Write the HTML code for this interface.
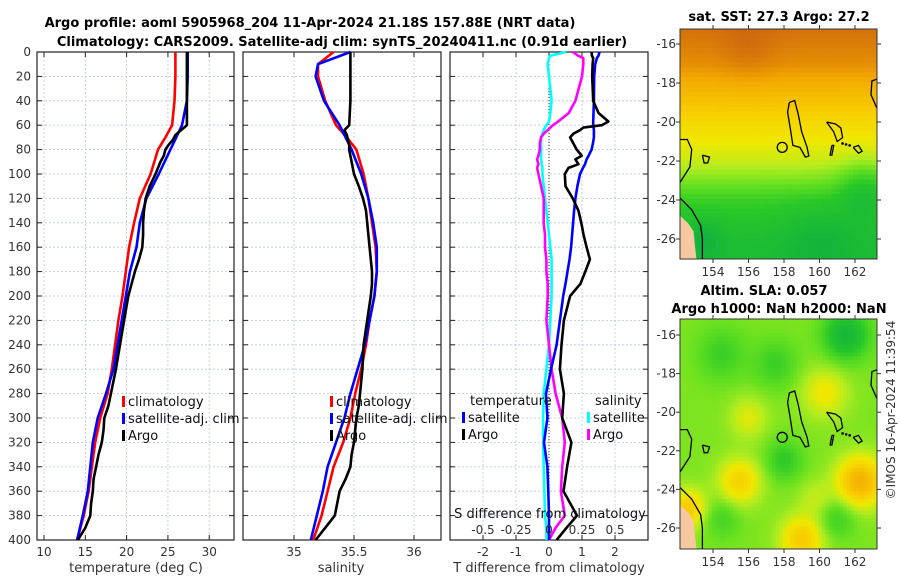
<!DOCTYPE html>
<html><head><meta charset="utf-8">
<style>
html,body{margin:0;padding:0;background:#fff;}
svg{display:block;font-family:"DejaVu Sans","Liberation Sans",sans-serif;}
.tk{font-size:12px;fill:#333;}
.tt{font-size:13px;font-weight:bold;fill:#000;}
.lg{font-size:13px;fill:#111;}
</style></head>
<body>
<svg id="fig" width="900" height="580" viewBox="0 0 900 580">
<defs>
<clipPath id="clipm1"><rect x="680" y="29" width="197" height="230"/></clipPath>
<clipPath id="clipm2"><rect x="680" y="319" width="197" height="230"/></clipPath>
</defs>
<g id="bg"></g>
<text class="tt" x="310" y="27" text-anchor="middle">Argo profile: aoml 5905968_204 11-Apr-2024 21.18S 157.88E (NRT data)</text>
<text class="tt" x="342" y="46" text-anchor="middle">Climatology: CARS2009. Satellite-adj clim: synTS_20240411.nc (0.91d earlier)</text>
<text class="tt" x="779" y="21" text-anchor="middle">sat. SST: 27.3 Argo: 27.2</text>
<text class="tt" x="764" y="295" text-anchor="middle">Altim. SLA: 0.057</text>
<text class="tt" x="779" y="313" text-anchor="middle">Argo h1000: NaN h2000: NaN</text>
<text class="tk" transform="translate(895,410) rotate(-90)" text-anchor="middle" style="font-size:12px">©IMOS 16-Apr-2024 11:39:54</text>
</svg>
<script>
// ---- data ----
const depthT=[0,10,20,40,60,70,80,100,120,140,160,180,200,220,240,260,280,300,320,340,360,380,400];
const tempClim=[25.9,25.9,25.9,25.8,25.5,24.7,23.8,22.9,21.6,20.9,20.3,19.9,19.5,19.0,18.6,18.2,17.7,16.8,16.2,15.8,15.4,14.8,14.0];
const tempSat=[27.4,27.4,27.4,27.3,26.7,26.0,25.3,23.9,22.4,21.6,21.2,20.4,19.9,19.4,18.9,18.4,17.5,16.5,15.9,15.6,15.3,14.7,14.0];
const depthA=[0,10,20,40,60,64,68,72,76,80,85,90,95,100,110,120,130,140,150,160,170,180,190,200,220,240,260,280,290,300,310,320,330,340,350,360,370,380,390,400];
const tempArgo=[27.3,27.3,27.3,27.3,27.3,26.6,25.9,25.6,25.1,24.7,24.5,24.1,23.8,23.5,22.8,22.3,22.1,22.0,22.0,21.9,21.5,21.0,20.6,20.2,19.7,19.2,18.7,18.1,17.8,17.3,17.2,17.0,16.6,16.3,16.0,15.9,15.7,15.6,15.0,14.1];
const salClim=[35.33,35.2,35.2,35.26,35.35,35.44,35.52,35.58,35.62,35.65,35.68,35.69,35.67,35.63,35.6,35.56,35.51,35.47,35.41,35.33,35.28,35.23,35.16];
const salSat=[35.47,35.2,35.18,35.25,35.38,35.43,35.48,35.56,35.62,35.66,35.69,35.69,35.67,35.63,35.59,35.53,35.47,35.42,35.35,35.28,35.24,35.19,35.14];
const salArgo=[35.47,35.47,35.47,35.47,35.46,35.42,35.44,35.45,35.46,35.46,35.47,35.48,35.49,35.5,35.54,35.575,35.6,35.61,35.62,35.63,35.64,35.65,35.65,35.64,35.61,35.58,35.57,35.55,35.54,35.52,35.51,35.5,35.48,35.47,35.43,35.38,35.36,35.34,35.26,35.18];
const depthD=[0,3,5,10,20,40,50,57,60,62,64,67,70,75,80,85,88,92,95,100,110,120,130,140,150,160,170,180,190,200,220,240,260,280,300,320,340,360,380,390,400];
const dTSat=[1.53,1.5,1.45,1.4,1.37,1.36,1.35,1.34,1.34,1.35,1.36,1.36,1.36,1.33,1.29,1.2,1.14,1.09,1.03,0.94,0.86,0.8,0.76,0.73,0.7,0.67,0.62,0.56,0.5,0.43,0.33,0.23,0.06,-0.09,-0.05,-0.15,-0.05,-0.02,0,0,0];
const dTArgo=[1.29,1.3,1.34,1.32,1.31,1.34,1.5,1.8,1.6,1.04,0.94,0.74,0.64,0.74,0.84,0.99,0.8,0.89,0.59,0.48,0.5,0.72,0.89,0.98,1.05,1.14,1.24,1.1,0.95,0.64,0.45,0.38,0.33,0.45,0.4,0.68,0.55,0.44,0.85,0.53,0.23];
const dSSat=[0.13,0.01,0.0,-0.01,0.0,0.02,0.01,0.0,-0.02,-0.03,-0.04,-0.05,-0.06,-0.06,-0.06,-0.06,-0.06,-0.055,-0.05,-0.05,-0.04,-0.03,-0.02,-0.01,0.0,0.01,0.02,0.02,0.02,0.02,0.01,0,-0.02,-0.04,-0.045,-0.045,-0.04,-0.035,-0.03,-0.02,-0.02];
const dSArgo=[0.18,0.22,0.26,0.26,0.25,0.2,0.15,0.07,0.03,0.01,-0.01,-0.04,-0.06,-0.07,-0.07,-0.08,-0.09,-0.08,-0.09,-0.08,-0.06,-0.04,-0.04,-0.04,-0.03,-0.03,-0.02,-0.02,-0.01,-0.01,-0.02,0,0.02,0.05,0.1,0.12,0.1,0.09,0.12,0.05,0.0];
const depthTicks=[0,20,40,60,80,100,120,140,160,180,200,220,240,260,280,300,320,340,360,380,400];
const tempTicks=[10,15,20,25,30];
const salTicks=[35,35.5,36];
const salTickLabels=["35","35.5","36"];
const dTTicks=[-2,-1,0,1,2];
const dSTicks=[-0.5,-0.25,0,0.25,0.5];
const dSTickLabels=["-0.5","-0.25","0","0.25","0.5"];
const lonTicks=[154,156,158,160,162];
const latTicks=[-16,-18,-20,-22,-24,-26];

const NS="http://www.w3.org/2000/svg";
const svg=document.getElementById('fig');
function mk(tag,attrs,parent){const e=document.createElementNS(NS,tag);for(const k in attrs)e.setAttribute(k,attrs[k]);(parent||svg).appendChild(e);return e;}

const TOP=52,BOT=540;
const yD=d=>TOP+(d/400)*(BOT-TOP);
const panels=[
 {x0:37,x1:234,lo:9.15,hi:33.0,name:'temperature'},
 {x0:243,x1:441,lo:34.575,hi:36.225,name:'salinity'},
 {x0:450,x1:648,lo:-3,hi:3,name:'difference'}
];
function sx(p,v){return p.x0+(v-p.lo)/(p.hi-p.lo)*(p.x1-p.x0);}

function frameAndGrid(p,xt,xlabels,showY){
  const g=mk('g',{});
  
  
  depthTicks.forEach(d=>{const y=yD(d);
    mk('line',{x1:p.x0,x2:p.x1,y1:y,y2:y,stroke:'#b8c4e0','stroke-width':0.8,'stroke-dasharray':'2,2'},g);
    mk('line',{x1:p.x0,x2:p.x0+5,y1:y,y2:y,stroke:'#222'},g);
    mk('line',{x1:p.x1,x2:p.x1-5,y1:y,y2:y,stroke:'#222'},g);
    if(showY){const t=mk('text',{x:p.x0-6,y:y+4,'text-anchor':'end',class:'tk'},g);t.textContent=d;}
  });
  xt.forEach((v,i)=>{const x=sx(p,v);
    mk('line',{x1:x,x2:x,y1:TOP,y2:BOT,stroke:'#b8c4e0','stroke-width':0.8,'stroke-dasharray':'2,2'},g);
    mk('line',{x1:x,x2:x,y1:BOT,y2:BOT-5,stroke:'#222'},g);
    mk('line',{x1:x,x2:x,y1:TOP,y2:TOP+5,stroke:'#222'},g);
    if(xlabels){const t=mk('text',{x:x,y:BOT+16,'text-anchor':'middle',class:'tk'},g);t.textContent=xlabels[i];}
  });
  mk('rect',{x:p.x0,y:TOP,width:p.x1-p.x0,height:BOT-TOP,fill:'none',stroke:'#222','stroke-width':1.2},g);
  return g;
}
function line(p,vals,deps,color,name,scale){
  const pts=vals.map((v,i)=>sx(p,v*(scale||1)).toFixed(1)+','+yD(deps[i]).toFixed(1)).join(' ');
  const e=mk('polyline',{points:pts,fill:'none',stroke:color,'stroke-width':2.6,'stroke-linejoin':'round'});
  
  
  return e;
}
function legend(x,y,items){
  items.forEach((it,i)=>{
    mk('rect',{x:x,y:y+i*17-10,width:3,height:11,fill:it[1]});
    const t=mk('text',{x:x+6,y:y+i*17,class:'lg'});t.textContent=it[0];
    
    
  });
}
// Panel 1
const p1=panels[0];
frameAndGrid(p1,tempTicks,tempTicks,true);
line(p1,tempClim,depthT,'#f00','temp-climatology-line');
line(p1,tempSat,depthT,'#00f','temp-satellite-line');
line(p1,tempArgo,depthA,'#000','temp-argo-line');
legend(122,406,[['climatology','#f00'],['satellite-adj. clim','#00f'],['Argo','#000']]);
let t=mk('text',{x:136,y:572,'text-anchor':'middle',class:'tk',style:'font-size:13px'});t.textContent='temperature (deg C)';

// Panel 2
const p2=panels[1];
frameAndGrid(p2,salTicks,salTickLabels,false);
line(p2,salClim,depthT,'#f00','sal-climatology-line');
line(p2,salSat,depthT,'#00f','sal-satellite-line');
line(p2,salArgo,depthA,'#000','sal-argo-line');
legend(330,406,[['climatology','#f00'],['satellite-adj. clim','#00f'],['Argo','#000']]);
t=mk('text',{x:341,y:572,'text-anchor':'middle',class:'tk',style:'font-size:13px'});t.textContent='salinity';

// Panel 3
const p3=panels[2];
frameAndGrid(p3,dTTicks,dTTicks,false);
mk('line',{x1:sx(p3,0),x2:sx(p3,0),y1:TOP,y2:BOT,stroke:'#333','stroke-width':1,'stroke-dasharray':'1,2'});
line(p3,dSSat,depthD,'#0ff','sal-diff-satellite-line',4);
line(p3,dSArgo,depthD,'#f0f','sal-diff-argo-line',4);
line(p3,dTSat,depthD,'#00f','temp-diff-satellite-line');
line(p3,dTArgo,depthD,'#000','temp-diff-argo-line');
t=mk('text',{x:470,y:405,class:'lg'});t.textContent='temperature';
t=mk('text',{x:595,y:405,class:'lg'});t.textContent='salinity';
legend(462,422,[['satellite','#00f'],['Argo','#000']]);
legend(587,422,[['satellite','#0ff'],['Argo','#f0f']]);
t=mk('text',{x:550,y:518,'text-anchor':'middle',class:'lg'});t.textContent='S difference from climatology';

dSTicks.forEach((v,i)=>{const tt=mk('text',{x:sx(p3,v*4),y:534,'text-anchor':'middle',class:'tk'});tt.textContent=dSTickLabels[i];});
t=mk('text',{x:549,y:572,'text-anchor':'middle',class:'tk',style:'font-size:13px'});t.textContent='T difference from climatology';


// ---- maps ----
const cmap=[[0,[16,176,64]],[0.2,[40,200,40]],[0.33,[100,224,32]],[0.42,[176,236,32]],[0.5,[240,232,0]],[0.62,[248,200,0]],[0.78,[240,160,0]],[1,[200,96,16]]];
function col(v){v=Math.max(0,Math.min(1,v));for(let i=1;i<cmap.length;i++){if(v<=cmap[i][0]){const a=cmap[i-1],b=cmap[i];const f=(v-a[0])/(b[0]-a[0]);return 'rgb('+a[1].map((c,k)=>Math.round(c+(b[1][k]-c)*f)).join(',')+')';}}return 'rgb(200,96,16)';}
const sstLat=[-15,-16,-17,-18,-19,-20,-21,-22,-23,-24,-25,-26,-27.2];
const sstVal=[0.95,0.9,0.84,0.72,0.64,0.56,0.5,0.45,0.36,0.24,0.17,0.12,0.1];
const sstBlobs=[[162.5,-23.5,-0.15,1.4],[160,-26,-0.08,2.0],[153.5,-26,-0.1,1.0],[156,-16.5,0.06,1.5]];
const slaBase=0.36;
const slaBlobs=[[155.5,-23.6,0.22,1.2],[162.3,-23.6,0.35,1.3],[160.3,-19,0.15,1.3],[156,-20.3,0.12,1.1],[159,-26.6,0.25,1.2],[152.6,-25,0.25,1.0],[161.5,-16,-0.3,1.2],[158,-22.5,-0.15,1.0],[154.5,-17,-0.12,1.3],[157.5,-17.5,-0.12,1.2],[159.8,-24.5,0.08,1.0],[161,-25.5,-0.12,1.0],[154.5,-25.5,-0.1,1.0]];
const LON0=152.14,LON1=163.24;
function interp(xs,ys,x){for(let i=1;i<xs.length;i++){if(x>=xs[i]){const f=(x-xs[i-1])/(xs[i]-xs[i-1]);return ys[i-1]+(ys[i]-ys[i-1])*f;}}return ys[ys.length-1];}
function blobs(lon,lat,arr){let v=0;arr.forEach(b=>{const d2=((lon-b[0])**2+(lat-b[1])**2)/(b[3]*b[3]);v+=b[2]*Math.exp(-d2);});return v;}
function drawMap(m,field,title,clip){
  const g=mk('g',{'clip-path':'url(#'+clip+')'});
  
  
  const X=lon=>m.x0+(lon-LON0)/(LON1-LON0)*(m.x1-m.x0);
  const Y=lat=>m.yref+(-16-lat)*m.ppd;
  const cs=m.cell;
  for(let lon=LON0;lon<LON1;lon+=cs){for(let lat=m.latTop;lat>m.latBot;lat-=cs){
    mk('rect',{x:X(lon).toFixed(1),y:Y(lat).toFixed(1),width:(cs*17.75+0.6).toFixed(1),height:(cs*m.ppd+0.6).toFixed(1),fill:col(field(lon+cs/2,lat-cs/2))},g);}}
  const land=[[152.14,-24.8],[152.6,-25.2],[152.9,-25.6],[153.0,-26.5],[153.1,-27.3],[152.14,-27.3]];
  mk('polygon',{points:land.map(p=>X(p[0])+','+Y(p[1])).join(' '),fill:'#f8c8a0'},g);
  const cont=[
   [[158.3,-19.0],[158.6,-18.9],[158.8,-19.6],[159.0,-20.5],[159.3,-21.3],[159.4,-21.75],[159.2,-21.8],[158.9,-21.3],[158.5,-21.2],[158.35,-20.3],[158.2,-19.5],[158.3,-19.0]],
   [[160.4,-20.0],[160.9,-20.1],[161.2,-20.3],[161.3,-20.8],[161.0,-21.0],[160.8,-20.5],[160.4,-20.0]],
   [[163.24,-17.8],[162.95,-17.9],[162.9,-18.6],[163.24,-19.3]],
   [[152.14,-20.9],[152.55,-20.9],[152.8,-21.4],[152.7,-22.3],[152.14,-23.1]],
   [[153.4,-21.7],[153.8,-21.8],[153.7,-22.1],[153.5,-22.1],[153.4,-21.7]],
   [[152.14,-23.9],[152.8,-24.5],[153.3,-25.3],[153.4,-26.0],[153.4,-27.3]],
   [[161.9,-21.3],[162.2,-21.2],[162.4,-21.5],[162.2,-21.6],[161.9,-21.3]],
   [[160.7,-21.2],[160.8,-21.2],[160.7,-21.7],[160.6,-21.7],[160.7,-21.2]]];
  cont.forEach(c=>mk('polyline',{points:c.map(p=>X(p[0]).toFixed(1)+','+Y(p[1]).toFixed(1)).join(' '),fill:'none',stroke:'#000','stroke-width':1.3},g));
  mk('circle',{cx:X(157.9),cy:Y(-21.3),r:5,fill:'none',stroke:'#000','stroke-width':1.3},g);
  [[161.3,-21.1],[161.5,-21.15],[161.7,-21.2]].forEach(p=>mk('circle',{cx:X(p[0]),cy:Y(p[1]),r:1.3,fill:'#000'},g));
  const a=mk('g',{});
  mk('rect',{x:m.x0,y:m.y0,width:m.x1-m.x0,height:m.y1-m.y0,fill:'none',stroke:'#333','stroke-width':1},a);
  lonTicks.forEach(l=>{const x=X(l);mk('line',{x1:x,x2:x,y1:m.y1,y2:m.y1+4,stroke:'#333'},a);mk('line',{x1:x,x2:x,y1:m.y0,y2:m.y0-4,stroke:'#333'},a);
    const tt=mk('text',{x:x,y:m.y1+17,'text-anchor':'middle',class:'tk'},a);tt.textContent=l;});
  latTicks.forEach(l=>{const y=Y(l);mk('line',{x1:m.x0,x2:m.x0-4,y1:y,y2:y,stroke:'#333'},a);mk('line',{x1:m.x1,x2:m.x1+4,y1:y,y2:y,stroke:'#333'},a);
    const tt=mk('text',{x:m.x0-4,y:y+4,'text-anchor':'end',class:'tk'},a);tt.textContent=l;});
}
drawMap({x0:680,x1:877,y0:29,y1:259,yref:44,ppd:19.5,latTop:-15.2,latBot:-27.3,cell:0.25},
 (lon,lat)=>interp(sstLat,sstVal,lat)+blobs(lon,lat,sstBlobs),'sst-map','clipm1');
drawMap({x0:680,x1:877,y0:319,y1:549,yref:335,ppd:19.3,latTop:-15.1,latBot:-27.4,cell:0.2},
 (lon,lat)=>slaBase+blobs(lon,lat,slaBlobs),'sla-map','clipm2');
</script>
</body></html>
